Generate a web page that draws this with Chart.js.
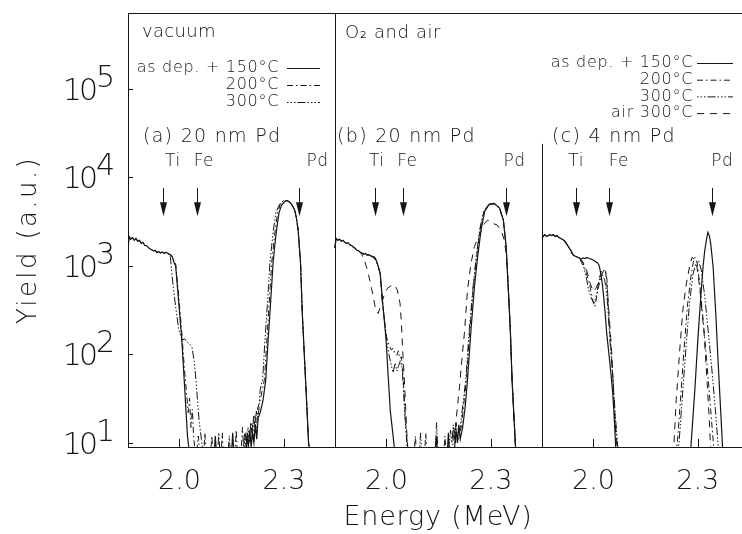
<!DOCTYPE html>
<html>
<head>
<meta charset="utf-8">
<script src="https://cdn.jsdelivr.net/npm/chart.js@4.4.1/dist/chart.umd.min.js"></script>
<style>
  html, body { margin: 0; padding: 0; background: #fff; overflow: hidden; }
  #wrap { position: relative; width: 742px; height: 534px; }
</style>
</head>
<body>
<div id="wrap"><canvas id="rbs" width="742" height="534"></canvas></div>
<script>
// energy at the left edge of each panel, and the energy span of one panel (MeV)
const E0 = 1.852;
const PANEL_SPAN = 0.595;
const X_MAX = 1.765;

const tickEnergies = [2.0, 2.3];
const tickLabels = ['2.0', '2.3'];
const yTicks = [10, 100, 1000, 10000, 100000];
const yExponents = ['1', '2', '3', '4', '5'];
const Y_MIN = 9;
const Y_MAX = 720000;

const panelTitles = ['(a) 20 nm Pd', '(b) 20 nm Pd', '(c) 4 nm Pd'];
const panelTitleE = [1.895, 1.858, 1.881];
const elementNames = ['Ti', 'Fe', 'Pd'];
const arrowE = [[1.954, 2.051, 2.343], [1.967, 2.048, 2.345], [1.949, 2.044, 2.341]];
const elementLabelE = [[1.981, 2.070, 2.397], [1.972, 2.060, 2.368], [1.950, 2.073, 2.370]];

const legendVacuum = ['as dep. + 150°C', '200°C', '300°C'];
const legendAir = ['as dep. + 150°C', '200°C', '300°C', 'air 300°C'];

// (a) vacuum, 20 nm Pd
const aPlateauE = [1.852,1.855,1.860,1.865,1.870,1.875,1.880,1.885,1.890,1.895,1.900,1.905,1.910,1.915,1.920,1.925,1.930,1.935,1.940,1.945,1.950,1.955,1.960,1.965,1.970];
const aPlateauY = [1500,2150,2000,2100,1950,2050,1900,1950,1800,1850,1700,1700,1620,1560,1520,1480,1500,1420,1450,1400,1440,1390,1420,1400,1360];
const a150E = [1.975,1.980,1.984,1.989,1.997,2.006,2.014,2.023,2.028, 2.100,2.103,2.106, 2.150,2.153,2.156, 2.190,2.194,2.198,2.202,2.206,2.210,2.214,2.218,2.222,2.226, 2.232,2.240,2.248,2.255,2.260,2.265,2.269,2.274,2.279,2.286,2.294,2.302,2.308,2.315,2.322,2.331,2.336,2.341,2.348,2.353,2.360,2.367,2.371,2.375];
const a150Y = [1320,1250,1100,1000,420,159,48,12,8, 8,12,8, 8,13,8, 8,12,9,14,9,13,10,16,11,19, 22,30,52,150,294,600,1080,1700,2550,3970,4900,5300,5470,5300,5000,4300,3500,2550,1080,294,80,22,10,8];
const a200E = [1.975,1.980,1.984,1.989,1.997,2.006,2.014,2.020,2.025,2.029,2.033,2.037,2.041,2.046, 2.050,2.054,2.058, 2.070,2.073,2.076, 2.090,2.093,2.096, 2.120,2.123,2.126, 2.160,2.163,2.166, 2.178,2.181,2.184,2.187,2.190, 2.205,2.209,2.213,2.217,2.221,2.225, 2.232,2.244,2.250,2.256,2.265,2.275,2.282,2.290,2.300,2.308,2.315,2.322,2.331,2.336,2.341,2.348,2.353,2.360,2.367,2.371,2.375];
const a200Y = [1330,1280,1150,1050,500,190,70,38,22,32,15,24,11,8, 8,12,8, 8,13,8, 8,12,8, 8,13,8, 8,14,8, 9,15,9,13,9, 12,17,11,21,13,25, 30,52,120,294,1080,2550,3970,5000,5500,5550,5350,5050,4300,3500,2550,1080,294,80,22,10,8];
const a300E = [1.974,1.979,1.984,1.989,1.998,2.008,2.015,2.022,2.030,2.036,2.043,2.048,2.053,2.057,2.063,2.067, 2.110,2.113,2.116, 2.140,2.143,2.146, 2.185,2.189,2.193,2.197,2.201,2.205,2.209,2.213,2.217,2.221, 2.226,2.232,2.239,2.245,2.251,2.256,2.260,2.265,2.270,2.277,2.288,2.298,2.308,2.315,2.322,2.331,2.336,2.341,2.348,2.353,2.360,2.367,2.371,2.375];
const a300Y = [1250,750,500,345,190,145,150,138,130,120,80,48,26,17,11,8, 8,13,8, 8,12,8, 8,13,9,15,10,17,11,20,13,23, 18,40,52,130,294,600,1080,1700,2550,3970,5000,5400,5450,5300,5000,4300,3500,2550,1080,294,80,22,10,8];

// (b) O2 / air, 20 nm Pd
const bPlateauE = [1.852,1.855,1.860,1.865,1.870,1.875,1.880,1.885,1.890,1.895,1.900,1.905,1.910,1.915,1.920,1.925];
const bPlateauY = [1600,2050,1950,2000,1900,1950,1850,1800,1820,1720,1700,1620,1580,1500,1480,1420];
const b150E = [1.930,1.935,1.940,1.945,1.950,1.955,1.960,1.966,1.971,1.976,1.982,1.990,1.999,2.005,2.011,2.019,2.024, 2.140,2.143,2.146, 2.175,2.178,2.181, 2.196,2.200,2.204,2.208,2.212, 2.219,2.226,2.233,2.243,2.253,2.262,2.272,2.282,2.296,2.310,2.325,2.336,2.344,2.349,2.356,2.361,2.367,2.371,2.375];
const b150Y = [1400,1350,1380,1320,1340,1300,1280,1250,1150,1000,830,350,145,56,23,12,8, 8,12,8, 8,13,8, 9,14,10,16,11, 15,25,52,190,590,1260,2560,4100,5000,5100,4500,3300,1660,690,190,52,18,9,8];
const b200E = [1.930,1.935,1.940,1.945,1.950,1.955,1.960,1.966,1.971,1.976,1.982,1.988,1.995,2.000,2.007,2.014,2.019,2.024,2.030,2.034,2.038,2.043,2.048,2.051,2.055,2.058,2.062, 2.080,2.083,2.086, 2.110,2.113,2.116, 2.165,2.168,2.171, 2.190,2.194,2.198,2.202,2.206, 2.215,2.230,2.240,2.250,2.259,2.269,2.280,2.294,2.308,2.325,2.336,2.344,2.349,2.356,2.361,2.367,2.371,2.375];
const b200Y = [1380,1360,1330,1350,1310,1320,1270,1230,1120,1000,800,400,230,158,130,112,118,104,98,110,90,94,56,33,17,12,8, 8,12,8, 8,13,8, 8,12,8, 9,15,10,13,11, 15,52,190,590,1260,2560,4100,4900,5000,4500,3300,1660,690,190,52,18,9,8];
const b300E = [1.930,1.935,1.940,1.945,1.950,1.955,1.960,1.966,1.971,1.976,1.982,1.988,1.995,2.000,2.007,2.014,2.019,2.025,2.030,2.034,2.040,2.045,2.049,2.053,2.057,2.060, 2.095,2.098,2.101, 2.140,2.144,2.148, 2.180,2.184,2.188,2.192,2.196,2.200,2.204, 2.212,2.228,2.238,2.249,2.258,2.268,2.279,2.293,2.308,2.325,2.336,2.344,2.349,2.356,2.361,2.367,2.371,2.375];
const b300Y = [1360,1380,1340,1330,1320,1290,1260,1210,1100,980,800,400,230,150,100,75,62,80,65,73,85,70,40,20,12,8, 8,13,8, 8,17,8, 9,14,10,16,11,17,12, 15,52,190,590,1260,2560,4100,4900,5100,4500,3300,1660,690,190,52,18,9,8];
const bAirE = [1.929,1.933,1.937,1.942,1.947,1.952,1.957,1.962,1.969,1.976,1.986,1.995,2.003,2.010,2.016,2.021,2.026,2.031,2.039,2.043,2.046,2.051,2.055,2.058,2.062, 2.196,2.200,2.205,2.210,2.217,2.224,2.233,2.243,2.253,2.267,2.282,2.291,2.305,2.318,2.330,2.338,2.344,2.349,2.356,2.361,2.367,2.371,2.375];
const bAirY = [1350,1230,1150,980,850,690,560,450,320,290,380,490,560,585,605,615,590,535,380,225,123,56,26,14,8, 8,18,28,43,90,173,535,1070,1660,2240,3030,3300,3030,2900,2500,2000,1400,690,190,52,18,9,8];

// (c) O2 / air, 4 nm Pd
const cPlateauE = [1.852,1.856,1.860,1.865,1.870,1.875,1.880,1.885,1.890,1.895,1.900,1.905,1.910,1.915,1.920,1.925,1.930,1.935,1.940,1.945,1.950,1.955,1.960];
const cPlateauY = [2100,2150,2250,2150,2200,2250,2200,2250,2150,2200,2100,2050,2000,1950,1850,1720,1600,1500,1350,1300,1280,1250,1230];
const c150E = [1.965,1.970,1.975,1.980,1.986,1.991,1.996,2.002,2.007,2.012,2.016,2.021,2.026,2.030,2.034,2.038,2.044,2.050,2.055,2.059,2.064,2.068, 2.276,2.280,2.284,2.292,2.300,2.308,2.315,2.320,2.325,2.329,2.333,2.337,2.344,2.352,2.359,2.366,2.371,2.375];
const c150Y = [1200,1230,1210,1240,1230,1200,1180,1150,1110,1080,1020,830,600,420,280,175,105,62,38,22,9,8, 8,9,15,43,146,420,980,1500,2000,2400,2200,1800,980,270,73,22,9,8];
const c200E = [1.965,1.970,1.975,1.980,1.986,1.991,1.996,2.000,2.004,2.008,2.015,2.022,2.030,2.035,2.039,2.044,2.049,2.054,2.061,2.068,2.072, 2.237,2.241,2.250,2.260,2.270,2.280,2.287,2.292,2.298,2.306,2.315,2.325,2.335,2.343,2.347];
const c200Y = [1150,1080,950,820,690,560,450,380,345,420,590,760,900,850,690,270,140,73,22,9,8, 8,10,30,110,350,750,1100,1250,1100,600,250,90,30,12,8];
const c300E = [1.965,1.972,1.979,1.986,1.995,2.002,2.010,2.016,2.022,2.027,2.032,2.036,2.040,2.047,2.055,2.063,2.070,2.073, 2.242,2.246,2.256,2.266,2.276,2.286,2.295,2.302,2.310,2.320,2.330,2.340,2.350,2.357,2.360];
const c300Y = [1100,980,760,535,420,380,500,680,800,780,700,560,400,150,60,20,9,8, 8,10,35,120,380,800,1100,1150,900,450,180,70,25,11,8];
const cAirE = [1.965,1.970,1.977,1.984,1.991,1.996,2.001,2.007,2.013,2.019,2.025,2.030,2.035,2.042,2.052,2.059,2.065,2.069, 2.228,2.231,2.238,2.248,2.257,2.267,2.277,2.284,2.290,2.296,2.305,2.318,2.327,2.334,2.337];
const cAirY = [1180,1100,980,800,630,560,510,560,630,780,940,920,870,420,112,31,10,8, 8,9,31,112,318,630,1020,1250,1180,1070,590,173,47,15,8];

const ARROW_TOP = 7600;
const ARROW_TIP = 3650;
const ELEMENT_LABEL_Y = 15000;
const PANEL_TITLE_Y = 28700;
const DIVIDER_C_TOP = 23900;

const FONT = "'DejaVu Sans', sans-serif";
const INK = '#151515';

const dashFor = {
  s150: [],
  s200: [6, 3, 1.5, 3],
  s300: [1.5, 2, 1.5, 2, 1.5, 2, 8, 2],
  air: [7, 6]
};

const seriesList = [
  { panel: 1, style: 'air', pe: bPlateauE, py: bPlateauY, e: bAirE, y: bAirY },
  { panel: 2, style: 'air', pe: cPlateauE, py: cPlateauY, e: cAirE, y: cAirY },
  { panel: 0, style: 's300', pe: aPlateauE, py: aPlateauY, e: a300E, y: a300Y },
  { panel: 1, style: 's300', pe: bPlateauE, py: bPlateauY, e: b300E, y: b300Y },
  { panel: 2, style: 's300', pe: cPlateauE, py: cPlateauY, e: c300E, y: c300Y },
  { panel: 0, style: 's200', pe: aPlateauE, py: aPlateauY, e: a200E, y: a200Y },
  { panel: 1, style: 's200', pe: bPlateauE, py: bPlateauY, e: b200E, y: b200Y },
  { panel: 2, style: 's200', pe: cPlateauE, py: cPlateauY, e: c200E, y: c200Y },
  { panel: 0, style: 's150', pe: aPlateauE, py: aPlateauY, e: a150E, y: a150Y },
  { panel: 1, style: 's150', pe: bPlateauE, py: bPlateauY, e: b150E, y: b150Y },
  { panel: 2, style: 's150', pe: cPlateauE, py: cPlateauY, e: c150E, y: c150Y }
];

function toPoints(s) {
  const off = s.panel * PANEL_SPAN - E0;
  const energies = s.pe.concat(s.e);
  const yields = s.py.concat(s.y);
  return energies.map((en, i) => ({ x: en + off, y: yields[i] }));
}

function text(ctx, str, x, y, size, align, spacing) {
  ctx.font = `200 ${size}px ${FONT}`;
  ctx.letterSpacing = (spacing || 0) + 'px';
  ctx.textAlign = align;
  ctx.textBaseline = 'middle';
  ctx.fillText(str, x, y);
}

function drawLegend(ctx, labels, styles, right, x0, x1, top, step) {
  labels.forEach((lab, i) => {
    const yy = top + i * step;
    text(ctx, lab, right, yy, 16, 'right', 0.7);
    ctx.beginPath();
    ctx.setLineDash(dashFor[styles[i]]);
    ctx.moveTo(x0, yy + 0.5);
    ctx.lineTo(x1, yy + 0.5);
    ctx.stroke();
  });
  ctx.setLineDash([]);
}

const panelDecor = {
  id: 'panelDecor',
  afterDraw(chart) {
    const { ctx, chartArea: ca, scales: { x, y } } = chart;
    const px = (panel, e) => x.getPixelForValue(e - E0 + panel * PANEL_SPAN);
    ctx.save();
    ctx.strokeStyle = INK;
    ctx.fillStyle = INK;
    ctx.lineWidth = 1;

    // frame top, panel dividers, inward ticks
    ctx.beginPath();
    ctx.moveTo(ca.left, ca.top + 0.5);
    ctx.lineTo(ca.right, ca.top + 0.5);
    const d1 = Math.round(x.getPixelForValue(PANEL_SPAN)) + 0.5;
    ctx.moveTo(d1, ca.top);
    ctx.lineTo(d1, ca.bottom);
    const d2 = Math.round(x.getPixelForValue(2 * PANEL_SPAN)) + 0.5;
    ctx.moveTo(d2, y.getPixelForValue(DIVIDER_C_TOP));
    ctx.lineTo(d2, ca.bottom);
    yTicks.forEach(v => {
      const p = Math.round(y.getPixelForValue(v)) + 0.5;
      ctx.moveTo(ca.left, p);
      ctx.lineTo(ca.left + 5, p);
    });
    for (let p = 0; p < 3; p++) {
      tickEnergies.forEach(e => {
        const q = Math.round(px(p, e)) + 0.5;
        ctx.moveTo(q, ca.bottom);
        ctx.lineTo(q, ca.bottom - 8);
      });
    }
    ctx.stroke();

    // tick labels
    for (let p = 0; p < 3; p++) {
      tickEnergies.forEach((e, i) => text(ctx, tickLabels[i], px(p, e), ca.bottom + 35, 27, 'center'));
    }
    yTicks.forEach((v, i) => {
      const p = y.getPixelForValue(v);
      text(ctx, '10', 95, p + 3, 30, 'right', -3);
      text(ctx, yExponents[i], 96, p - 10, 30, 'left');
    });

    // axis titles
    text(ctx, 'Energy (MeV)', 438, 518, 27, 'center', 0.8);
    ctx.save();
    ctx.translate(29, 240);
    ctx.rotate(-Math.PI / 2);
    text(ctx, 'Yield (a.u.)', 0, 0, 26, 'center', 2.4);
    ctx.restore();

    // panel titles, element labels and arrows
    const tipY = y.getPixelForValue(ARROW_TIP);
    const topY = y.getPixelForValue(ARROW_TOP);
    for (let p = 0; p < 3; p++) {
      text(ctx, panelTitles[p], px(p, panelTitleE[p]), y.getPixelForValue(PANEL_TITLE_Y), 19, 'left', 1.3);
      elementNames.forEach((name, i) => {
        text(ctx, name, px(p, elementLabelE[p][i]), y.getPixelForValue(ELEMENT_LABEL_Y), 17, 'center', 0.5);
        const q = Math.round(px(p, arrowE[p][i])) + 0.5;
        ctx.beginPath();
        ctx.moveTo(q, topY);
        ctx.lineTo(q, tipY - 13);
        ctx.stroke();
        ctx.beginPath();
        ctx.moveTo(q - 3.5, tipY - 14);
        ctx.lineTo(q + 3.5, tipY - 14);
        ctx.lineTo(q, tipY);
        ctx.closePath();
        ctx.fill();
      });
    }

    // condition headers and legends
    text(ctx, 'vacuum', 142, 32, 18, 'left', 0.3);
    text(ctx, 'O₂ and air', 345, 33, 18, 'left', 0.6);
    drawLegend(ctx, legendVacuum, ['s150', 's200', 's300'], 279, 287, 320, 68, 17);
    drawLegend(ctx, legendAir, ['s150', 's200', 's300', 'air'], 693, 697, 733, 63, 16.7);
    ctx.restore();
  }
};

new Chart(document.getElementById('rbs'), {
  type: 'line',
  data: {
    datasets: seriesList.map(s => ({
      data: toPoints(s),
      borderColor: INK,
      borderWidth: s.style === 's150' ? 1.2 : 1,
      borderDash: dashFor[s.style],
      pointRadius: 0,
      fill: false,
      tension: 0
    }))
  },
  options: {
    responsive: false,
    animation: false,
    events: [],
    layout: { padding: { top: 13, right: 0, bottom: 0, left: 0 } },
    plugins: { legend: { display: false }, tooltip: { enabled: false } },
    scales: {
      x: {
        type: 'linear',
        min: 0,
        max: X_MAX,
        grid: { display: false },
        border: { display: true, color: INK, width: 1 },
        ticks: { display: false },
        afterFit: scale => { scale.height = 87; }
      },
      y: {
        type: 'logarithmic',
        min: Y_MIN,
        max: Y_MAX,
        grid: { display: false },
        border: { display: true, color: INK, width: 1 },
        ticks: { display: false },
        afterFit: scale => { scale.width = 128; }
      }
    }
  },
  plugins: [panelDecor]
});
</script>
</body>
</html>
